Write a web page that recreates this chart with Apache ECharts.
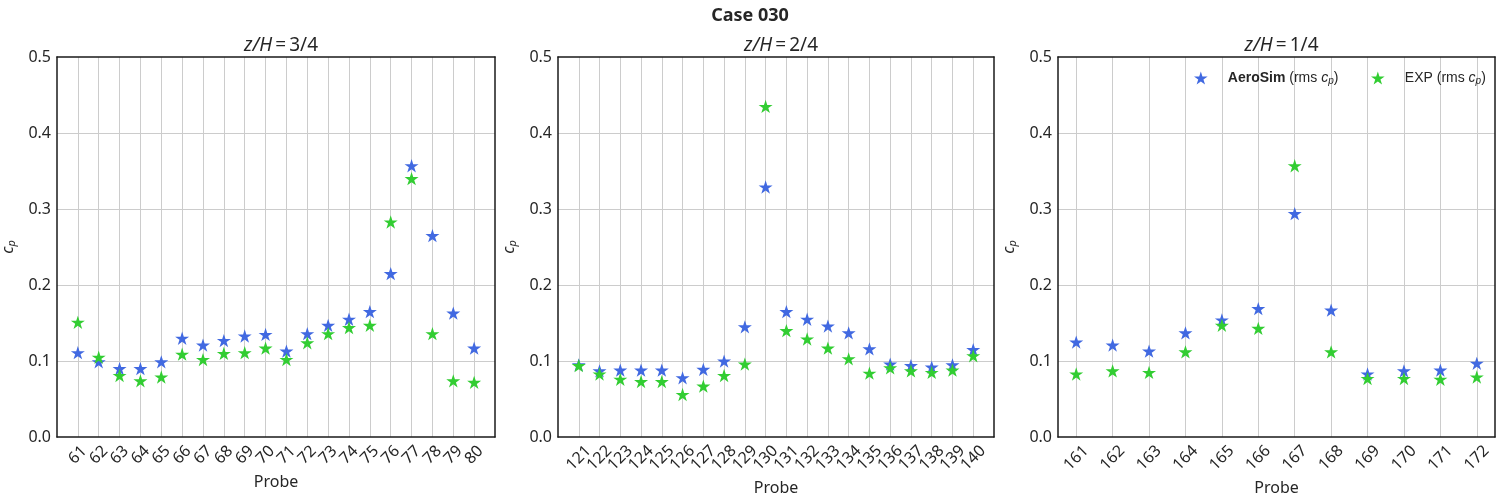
<!DOCTYPE html>
<html><head><meta charset="utf-8">
<script src="https://cdn.jsdelivr.net/npm/echarts@6/dist/echarts.min.js"></script>
<style>html,body{margin:0;padding:0;background:#fff}#c{width:1500px;height:500px}</style>
</head><body><div id="c"></div>
<script>
// ---- data ----
const probes1 = ['61','62','63','64','65','66','67','68','69','70','71','72','73','74','75','76','77','78','79','80'];
const aero1 = [0.110,0.098,0.089,0.089,0.098,0.129,0.120,0.126,0.132,0.134,0.112,0.135,0.146,0.154,0.164,0.214,0.356,0.264,0.162,0.116];
const exp1  = [0.150,0.104,0.080,0.073,0.078,0.108,0.101,0.109,0.110,0.116,0.101,0.123,0.135,0.143,0.146,0.282,0.339,0.135,0.073,0.071];

const probes2 = ['121','122','123','124','125','126','127','128','129','130','131','132','133','134','135','136','137','138','139','140'];
const aero2 = [0.094,0.086,0.087,0.087,0.087,0.077,0.088,0.099,0.144,0.328,0.164,0.154,0.145,0.136,0.115,0.095,0.093,0.091,0.094,0.114];
const exp2  = [0.093,0.082,0.075,0.072,0.072,0.055,0.066,0.080,0.095,0.434,0.139,0.128,0.116,0.102,0.083,0.090,0.086,0.084,0.087,0.106];

const probes3 = ['161','162','163','164','165','166','167','168','169','170','171','172'];
const aero3 = [0.124,0.120,0.112,0.136,0.153,0.168,0.293,0.166,0.082,0.086,0.087,0.096];
const exp3  = [0.082,0.086,0.084,0.111,0.146,0.142,0.356,0.111,0.076,0.076,0.075,0.078];

const panelTitles = ['3/4', '2/4', '1/4'];
const yTicks = [0, 0.5, 0.1];

// ---- style ----
const TXT = '#262626';
const FONT = 'Noto Sans';
const BLUE = '#4169E1';
const GREEN = '#32CD32';
const GRIDC = '#cccccc';
const FRAME = '#1a1a1a';
const STAR = 'path://M0,-100 L22.45,-30.9 L95.1,-30.9 L36.33,11.8 L58.78,80.9 L0,38.2 L-58.78,80.9 L-36.33,11.8 L-95.1,-30.9 L-22.45,-30.9 Z';

const layouts = [
  {left: 57, width: 438, center: 276, nameGap: 35, margin: 18},
  {left: 558, width: 436, center: 776, nameGap: 42, margin: 21},
  {left: 1058, width: 437, center: 1276.5, nameGap: 42, margin: 21}
];
const panels = [
  {probes: probes1, aero: aero1, exp: exp1, cat: false},
  {probes: probes2, aero: aero2, exp: exp2, cat: false},
  {probes: probes3, aero: aero3, exp: exp3, cat: true}
];

const grid = [], xAxis = [], yAxis = [], series = [];
const title = [{
  text: 'Case 030', left: 'center', top: 2,
  textStyle: {fontFamily: FONT, fontWeight: 'bold', fontSize: 18, color: TXT}
}];

const frameLine = {show: true, onZero: false, lineStyle: {color: FRAME, width: 1.5}};

panels.forEach((p, k) => {
  const L = layouts[k];
  grid.push({left: L.left, top: 57, width: L.width, height: 380, containLabel: false, outerBoundsMode: 'none'});
  title.push({
    text: '{i|z/H}\u2009=\u2009' + panelTitles[k],
    left: L.center, top: 31, textAlign: 'center',
    textStyle: {fontFamily: FONT, fontSize: 19, color: TXT, fontWeight: 'normal',
      rich: {i: {fontFamily: FONT, fontStyle: 'italic', fontSize: 19, color: TXT}}}
  });
  const labelCommon = {
    rotate: 45, align: 'center', verticalAlign: 'middle', margin: L.margin,
    fontFamily: FONT, fontSize: 16, color: TXT
  };
  const nameCommon = {
    name: 'Probe', nameLocation: 'middle', nameGap: L.nameGap,
    nameTextStyle: {fontFamily: FONT, fontSize: 16, color: TXT}
  };
  if (p.cat) {
    xAxis.push(Object.assign({
      gridIndex: k, type: 'category', data: p.probes, boundaryGap: true,
      axisLine: frameLine, axisTick: {show: false},
      axisLabel: Object.assign({interval: 0}, labelCommon),
      splitLine: {show: true, alignWithLabel: true, interval: 0, lineStyle: {color: GRIDC, width: 1}}
    }, nameCommon));
  } else {
    const probes = p.probes;
    xAxis.push(Object.assign({
      gridIndex: k, type: 'value', min: -1, max: probes.length, interval: 1,
      axisLine: frameLine, axisTick: {show: false},
      axisLabel: Object.assign({
        showMinLabel: true, showMaxLabel: true,
        formatter: v => (Number.isInteger(v) && v >= 0 && v < probes.length) ? probes[v] : ''
      }, labelCommon),
      splitLine: {show: true, showMinLine: false, showMaxLine: false, lineStyle: {color: GRIDC, width: 1}}
    }, nameCommon));
  }
  // top frame
  xAxis.push({
    gridIndex: k, type: 'value', position: 'top', min: 0, max: 1,
    axisLine: frameLine, axisTick: {show: false}, axisLabel: {show: false}, splitLine: {show: false}
  });
  yAxis.push({
    gridIndex: k, type: 'value', min: yTicks[0], max: yTicks[1], interval: yTicks[2],
    axisLine: frameLine, axisTick: {show: false},
    axisLabel: {fontFamily: FONT, fontSize: 16, color: TXT, margin: 6, formatter: v => v.toFixed(1)},
    splitLine: {show: true, showMinLine: false, showMaxLine: false, lineStyle: {color: GRIDC, width: 1}},
    name: '{i|c}{s|p}', nameLocation: 'middle', nameGap: 40, nameRotate: 90,
    nameTextStyle: {fontFamily: FONT, fontSize: 16, color: TXT,
      rich: {i: {fontFamily: FONT, fontStyle: 'italic', fontSize: 16, color: TXT},
             s: {fontFamily: FONT, fontStyle: 'italic', fontSize: 11, color: TXT, padding: [7, 0, 0, 0]}}}
  });
  // right frame
  yAxis.push({
    gridIndex: k, type: 'value', position: 'right', min: 0, max: 1,
    axisLine: frameLine, axisTick: {show: false}, axisLabel: {show: false}, splitLine: {show: false}
  });
  const mk = arr => p.cat ? arr.slice() : arr.map((v, i) => [i, v]);
  [['AeroSim', p.aero, BLUE], ['EXP', p.exp, GREEN]].forEach(([name, arr, col]) => {
    series.push({
      name, type: 'scatter', xAxisIndex: 2 * k, yAxisIndex: 2 * k,
      data: mk(arr), symbol: STAR, symbolSize: [14, 13.3], symbolOffset: [0, -0.7],
      itemStyle: {color: col, opacity: 1}, z: 3,
      emphasis: {disabled: true}
    });
  });
});

const legendRich = {
  b: {fontFamily: 'Liberation Sans', fontWeight: 'bold', fontSize: 14, color: TXT, padding: [0, 0, 0, 15]},
  g: {fontFamily: 'Liberation Sans', fontSize: 14, color: TXT, padding: [0, 0, 0, 15]},
  n: {fontFamily: 'Liberation Sans', fontSize: 14, color: TXT},
  i: {fontFamily: 'Liberation Sans', fontStyle: 'italic', fontSize: 14, color: TXT},
  s: {fontFamily: 'Liberation Sans', fontStyle: 'italic', fontSize: 10, color: TXT, padding: [6, 0, 0, 0]}
};
const legendBase = {
  top: 71, padding: 0, itemWidth: 14, itemHeight: 13, selectedMode: false,
  textStyle: {fontFamily: 'Liberation Sans', fontSize: 14, color: TXT, rich: legendRich},
  formatter: name => name === 'AeroSim'
    ? '{b|AeroSim}{n| (rms }{i|c}{s|p}{n|)}'
    : '{g|EXP}{n| (rms }{i|c}{s|p}{n|)}'
};
const legend = [
  Object.assign({data: [{name: 'AeroSim', icon: STAR}], left: 1194}, legendBase),
  Object.assign({data: [{name: 'EXP', icon: STAR}], left: 1371}, legendBase)
];

const chart = echarts.init(document.getElementById('c'), null, {renderer: 'canvas'});
chart.setOption({
  animation: false,
  backgroundColor: '#ffffff',
  title, legend, grid, xAxis, yAxis, series
});
</script>
</body></html>
